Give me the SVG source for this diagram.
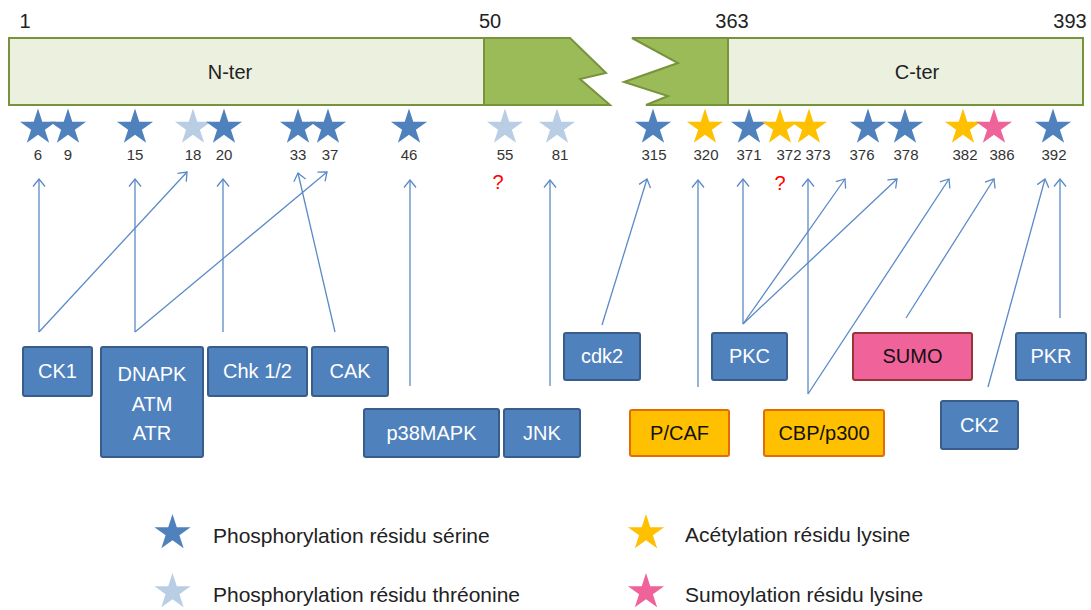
<svg xmlns="http://www.w3.org/2000/svg" xmlns:xlink="http://www.w3.org/1999/xlink" width="1091" height="610" viewBox="0 0 1091 610">
<style>
text{font-family:"Liberation Sans",Arial,sans-serif}
.pos{font-size:20px;fill:#222;text-anchor:middle}
.dom{font-size:20px;fill:#222;text-anchor:middle}
.num{font-size:15px;fill:#333;text-anchor:middle}
.q{font-size:20px;fill:#ff0000;text-anchor:middle}
.light{fill:#EBF1DE;stroke:#77933C;stroke-width:2}
.dark{fill:#9BBB59;stroke:#77933C;stroke-width:2}
.ser{fill:#4F81BD}
.thr{fill:#B9CDE5}
.ace{fill:#FFC000}
.sum{fill:#F0629A}
.kb{fill:#4F81BD;stroke:#385D8A;stroke-width:2}
.ob{fill:#FFC000;stroke:#E36C09;stroke-width:2}
.pb{fill:#F0629A;stroke:#943634;stroke-width:2}
.wt{font-size:20px;fill:#fff;text-anchor:middle}
.bt{font-size:20px;fill:#111;text-anchor:middle}
.lg{font-size:21px;fill:#222}
.conn line{stroke:#5A8AC6;stroke-width:1.3;fill:none;marker-end:url(#arr)}
</style>
<defs>
<path id="star" d="M0,-19 L4.27,-5.87 L18.07,-5.87 L6.9,2.24 L11.17,15.37 L0,7.26 L-11.17,15.37 L-6.9,2.24 L-18.07,-5.87 L-4.27,-5.87 Z"/>
<marker id="arr" markerUnits="userSpaceOnUse" viewBox="0 0 10 14" refX="8.5" refY="7" markerWidth="10" markerHeight="14" orient="auto">
<path d="M1,1 L8.5,7 L1,13" fill="none" stroke="#5A8AC6" stroke-width="1.3"/>
</marker>
</defs>
<rect width="1091" height="610" fill="#fff"/>

<g id="protein">
<rect class="light" x="9" y="38" width="475" height="67"/>
<polygon class="dark" points="484,38 570,38 606,73 580,79 610,105 484,105"/>
<polygon class="dark" points="632,38 678,63 624,82 668,96 646,105 728,105 728,38"/>
<rect class="light" x="728" y="38" width="355" height="67"/>
<text class="dom" x="230" y="79">N-ter</text>
<text class="dom" x="917" y="79">C-ter</text>
<text class="pos" x="25" y="28">1</text>
<text class="pos" x="490" y="28">50</text>
<text class="pos" x="732" y="28">363</text>
<text class="pos" x="1070" y="28">393</text>
</g>

<g id="residues">
<use xlink:href="#star" href="#star" class="ser" x="38" y="127.5"/>
<use xlink:href="#star" href="#star" class="ser" x="68" y="127.5"/>
<use xlink:href="#star" href="#star" class="ser" x="135" y="127.5"/>
<use xlink:href="#star" href="#star" class="thr" x="193" y="127.5"/>
<use xlink:href="#star" href="#star" class="ser" x="224" y="127.5"/>
<use xlink:href="#star" href="#star" class="ser" x="298" y="127.5"/>
<use xlink:href="#star" href="#star" class="ser" x="328" y="127.5"/>
<use xlink:href="#star" href="#star" class="ser" x="409" y="127.5"/>
<use xlink:href="#star" href="#star" class="thr" x="505" y="127.5"/>
<use xlink:href="#star" href="#star" class="thr" x="557" y="127.5"/>
<use xlink:href="#star" href="#star" class="ser" x="653" y="127.5"/>
<use xlink:href="#star" href="#star" class="ace" x="705" y="127.5"/>
<use xlink:href="#star" href="#star" class="ser" x="749" y="127.5"/>
<use xlink:href="#star" href="#star" class="ace" x="780" y="127.5"/>
<use xlink:href="#star" href="#star" class="ace" x="809" y="127.5"/>
<use xlink:href="#star" href="#star" class="ser" x="868" y="127.5"/>
<use xlink:href="#star" href="#star" class="ser" x="905" y="127.5"/>
<use xlink:href="#star" href="#star" class="ace" x="963" y="127.5"/>
<use xlink:href="#star" href="#star" class="sum" x="994" y="127.5"/>
<use xlink:href="#star" href="#star" class="ser" x="1053" y="127.5"/>
<text class="num" x="38" y="160">6</text>
<text class="num" x="68" y="160">9</text>
<text class="num" x="135" y="160">15</text>
<text class="num" x="193" y="160">18</text>
<text class="num" x="224" y="160">20</text>
<text class="num" x="298" y="160">33</text>
<text class="num" x="330" y="160">37</text>
<text class="num" x="409" y="160">46</text>
<text class="num" x="505" y="160">55</text>
<text class="num" x="560" y="160">81</text>
<text class="num" x="654" y="160">315</text>
<text class="num" x="706" y="160">320</text>
<text class="num" x="749" y="160">371</text>
<text class="num" x="789" y="160">372</text>
<text class="num" x="818" y="160">373</text>
<text class="num" x="862" y="160">376</text>
<text class="num" x="906" y="160">378</text>
<text class="num" x="965" y="160">382</text>
<text class="num" x="1002" y="160">386</text>
<text class="num" x="1054" y="160">392</text>
<text class="q" x="498" y="189">?</text>
<text class="q" x="780" y="190">?</text>
</g>

<g id="connectors" class="conn">
<line x1="39" y1="332" x2="39" y2="179"/>
<line x1="39" y1="332" x2="187" y2="172"/>
<line x1="135" y1="332" x2="135" y2="179"/>
<line x1="135" y1="332" x2="327" y2="172"/>
<line x1="223" y1="332" x2="223" y2="179"/>
<line x1="335" y1="332" x2="298" y2="173"/>
<line x1="410" y1="386" x2="410" y2="180"/>
<line x1="550" y1="386" x2="550" y2="180"/>
<line x1="602" y1="325" x2="647" y2="179"/>
<line x1="698" y1="387" x2="698" y2="180"/>
<line x1="743" y1="324" x2="743" y2="179"/>
<line x1="743" y1="324" x2="845" y2="179"/>
<line x1="743" y1="324" x2="897" y2="179"/>
<line x1="808" y1="394" x2="808" y2="179"/>
<line x1="808" y1="394" x2="949" y2="179"/>
<line x1="906" y1="318" x2="994" y2="179"/>
<line x1="988" y1="387" x2="1045" y2="179"/>
<line x1="1060" y1="318" x2="1060" y2="179"/>
</g>

<g id="CK1"><rect class="kb" x="23" y="347" width="69" height="49" rx="2"/><text class="wt" x="57.5" y="378">CK1</text></g>
<g id="DNAPK"><rect class="kb" x="101" y="347" width="102" height="110" rx="2"/><text class="wt" x="152" y="381">DNAPK</text><text class="wt" x="152" y="411">ATM</text><text class="wt" x="152" y="440">ATR</text></g>
<g id="Chk"><rect class="kb" x="208" y="347" width="99" height="49" rx="2"/><text class="wt" x="257.5" y="378">Chk 1/2</text></g>
<g id="CAK"><rect class="kb" x="312" y="347" width="76" height="49" rx="2"/><text class="wt" x="350" y="378">CAK</text></g>
<g id="p38MAPK"><rect class="kb" x="364" y="409" width="135" height="48" rx="2"/><text class="wt" x="431.5" y="440">p38MAPK</text></g>
<g id="JNK"><rect class="kb" x="504" y="409" width="76" height="48" rx="2"/><text class="wt" x="542" y="440">JNK</text></g>
<g id="cdk2"><rect class="kb" x="564" y="333" width="76" height="47" rx="2"/><text class="wt" x="602" y="363">cdk2</text></g>
<g id="PCAF"><rect class="ob" x="630" y="410" width="99" height="46" rx="2"/><text class="bt" x="679.5" y="440">P/CAF</text></g>
<g id="PKC"><rect class="kb" x="712" y="333" width="75" height="47" rx="2"/><text class="wt" x="749.5" y="363">PKC</text></g>
<g id="CBP"><rect class="ob" x="764" y="410" width="120" height="46" rx="2"/><text class="bt" x="824" y="440">CBP/p300</text></g>
<g id="SUMO"><rect class="pb" x="853" y="333" width="119" height="47" rx="2"/><text class="bt" x="912.5" y="363">SUMO</text></g>
<g id="CK2"><rect class="kb" x="941" y="401" width="77" height="48" rx="2"/><text class="wt" x="979.5" y="432">CK2</text></g>
<g id="PKR"><rect class="kb" x="1016" y="333" width="70" height="47" rx="2"/><text class="wt" x="1051" y="363">PKR</text></g>

<g id="legend">
<use xlink:href="#star" href="#star" class="ser" x="172.5" y="533"/>
<text class="lg" x="213" y="543">Phosphorylation résidu sérine</text>
<use xlink:href="#star" href="#star" class="thr" x="172.5" y="592"/>
<text class="lg" x="213" y="602">Phosphorylation résidu thréonine</text>
<use xlink:href="#star" href="#star" class="ace" x="646" y="533"/>
<text class="lg" x="685" y="542">Acétylation résidu lysine</text>
<use xlink:href="#star" href="#star" class="sum" x="646" y="592"/>
<text class="lg" x="685" y="602">Sumoylation résidu lysine</text>
</g>
</svg>
